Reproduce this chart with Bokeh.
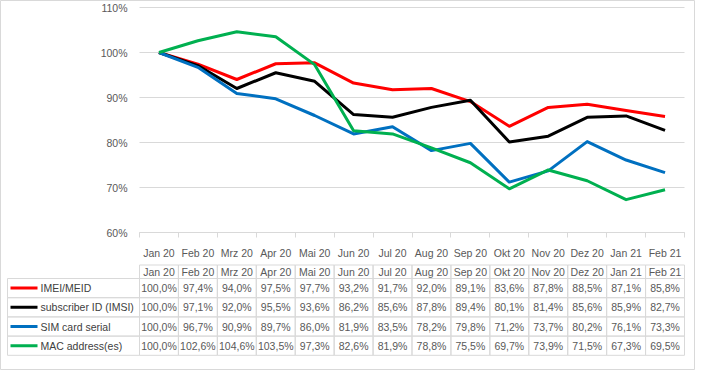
from bokeh.plotting import figure
from bokeh.models import Range1d, FixedTicker, PrintfTickFormatter
from bokeh.embed import file_html
from bokeh.resources import INLINE
from bokeh.core.properties import value

# ---------------- data ----------------
months = ["Jan 20", "Feb 20", "Mrz 20", "Apr 20", "Mai 20", "Jun 20", "Jul 20",
          "Aug 20", "Sep 20", "Okt 20", "Nov 20", "Dez 20", "Jan 21", "Feb 21"]
series_names = ["IMEI/MEID", "subscriber ID (IMSI)", "SIM card serial", "MAC address(es)"]
imei = [100.0, 97.4, 94.0, 97.5, 97.7, 93.2, 91.7, 92.0, 89.1, 83.6, 87.8, 88.5, 87.1, 85.8]
imsi = [100.0, 97.1, 92.0, 95.5, 93.6, 86.2, 85.6, 87.8, 89.4, 80.1, 81.4, 85.6, 85.9, 82.7]
sim = [100.0, 96.7, 90.9, 89.7, 86.0, 81.9, 83.5, 78.2, 79.8, 71.2, 73.7, 80.2, 76.1, 73.3]
mac = [100.0, 102.6, 104.6, 103.5, 97.3, 82.6, 81.9, 78.8, 75.5, 69.7, 73.9, 71.5, 67.3, 69.5]
y_ticks = [60, 70, 80, 90, 100, 110]
series_values = [imei, imsi, sim, mac]
colors = ["#FF0000", "#000000", "#0070C0", "#00B050"]

# ---------------- layout ----------------
W, H = 695, 370
plot_left, plot_right = 139, 684
y_top_px = 7          # pixel of the top tick
px_per_pct = 4.5
n = len(months)
unit = (plot_right - plot_left) / n
FONT = value("Liberation Sans")
FS = "10.5px"
TXT = "#595959"
LEG_TXT = "#404040"
GRID = "#D9D9D9"

x_range = Range1d(-plot_left / unit, n + (W - plot_right) / unit)
y_range = Range1d(y_ticks[-1] - (H - y_top_px) / px_per_pct,
                  y_ticks[-1] + y_top_px / px_per_pct)

p = figure(width=W, height=H, x_range=x_range, y_range=y_range,
           output_backend="svg", toolbar_location=None, min_border=0,
           background_fill_color="white", border_fill_color="white")
p.extra_x_ranges = {"px": Range1d(0, W)}
p.extra_y_ranges = {"px": Range1d(H, 0)}
p.outline_line_color = GRID
p.grid.visible = False

# y axis inside the frame
p.yaxis.fixed_location = 0
p.yaxis.ticker = FixedTicker(ticks=y_ticks, minor_ticks=[])
p.yaxis.formatter = PrintfTickFormatter(format="%d%%")
p.yaxis.axis_line_color = None
p.yaxis.major_tick_line_color = None
p.yaxis.minor_tick_line_color = None
p.yaxis.major_tick_out = 0
p.yaxis.major_tick_in = 0
p.yaxis.major_label_standoff = 12
p.yaxis.major_label_text_font = "Liberation Sans"
p.yaxis.major_label_text_font_size = FS
p.yaxis.major_label_text_color = TXT

# x (category) axis inside the frame
centers = [i + 0.5 for i in range(n)]
p.xaxis.fixed_location = y_ticks[0]
p.xaxis.bounds = (0, n)
p.xaxis.ticker = FixedTicker(ticks=centers, minor_ticks=list(range(n + 1)))
p.xaxis.major_label_overrides = {c: m for c, m in zip(centers, months)}
p.xaxis.axis_line_color = GRID
p.xaxis.major_tick_line_color = None
p.xaxis.major_tick_out = 0
p.xaxis.major_tick_in = 0
p.xaxis.minor_tick_line_color = GRID
p.xaxis.minor_tick_out = 5
p.xaxis.minor_tick_in = 0
p.xaxis.major_label_standoff = 9
p.xaxis.major_label_text_font = "Liberation Sans"
p.xaxis.major_label_text_font_size = FS
p.xaxis.major_label_text_color = TXT

# gridlines over the plot area
p.segment(x0=0, x1=n, y0=y_ticks, y1=y_ticks, line_color=GRID, line_width=1)

# series lines
for vals, col in zip(series_values, colors):
    p.line(centers, vals, line_color=col, line_width=3, line_join="round")

# ---------------- data table ----------------
header_top, header_bot = 264.5, 278
row_h = 19.2
leg_left = 7

idx = list(range(n))
p.quad(left=idx, right=[i + 1 for i in idx], top=header_top, bottom=header_bot,
       fill_alpha=0, line_color=GRID, y_range_name="px")
p.text(x=centers, y=(header_top + header_bot) / 2, text=months, text_font=FONT,
       text_font_size=FS, text_color=TXT, text_align="center",
       text_baseline="middle", y_range_name="px")

for r, (name, vals, col) in enumerate(zip(series_names, series_values, colors)):
    rt = header_bot + r * row_h
    rb = rt + row_h
    rc = (rt + rb) / 2
    p.quad(left=idx, right=[i + 1 for i in idx], top=rt, bottom=rb,
           fill_alpha=0, line_color=GRID, y_range_name="px")
    labels = [f"{v:.1f}".replace(".", ",") + "%" for v in vals]
    p.text(x=centers, y=rc, text=labels, text_font=FONT, text_font_size=FS,
           text_color=TXT, text_align="center", text_baseline="middle",
           y_range_name="px")
    p.quad(left=leg_left, right=plot_left, top=rt, bottom=rb, fill_alpha=0,
           line_color=GRID, x_range_name="px", y_range_name="px")
    p.segment(x0=leg_left + 3, x1=leg_left + 30, y0=rc, y1=rc, line_color=col,
              line_width=3, x_range_name="px", y_range_name="px")
    p.text(x=leg_left + 33, y=rc, text=[name], text_font=FONT, text_font_size=FS,
           text_color=LEG_TXT, text_align="left", text_baseline="middle",
           x_range_name="px", y_range_name="px")

open("out.html", "w").write(file_html(p, INLINE))
